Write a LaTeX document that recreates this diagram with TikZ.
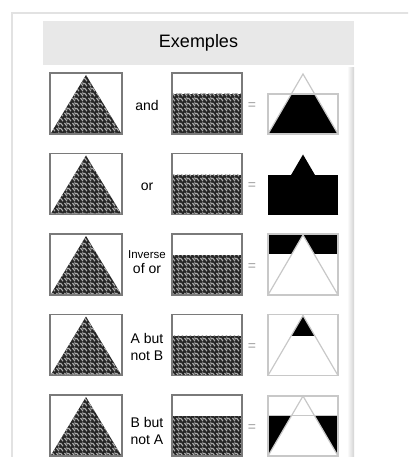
\documentclass[tikz,border=0pt]{standalone}
\usepackage{fontspec}
\setmainfont{Liberation Sans}
\usetikzlibrary{patterns}

\definecolor{framegray}{HTML}{E2E2E2}
\definecolor{headgray}{HTML}{E8E8E8}
\definecolor{boxgray}{HTML}{7A7A7A}
\definecolor{thingray}{HTML}{C8C8C8}
\definecolor{weavedark}{HTML}{262626}

% herringbone texture for the sets A and B
\pgfdeclarepatternformonly{weave}{\pgfpoint{-1pt}{-1pt}}{\pgfpoint{9pt}{6pt}}{\pgfpoint{8pt}{5pt}}{%
  \pgfsetlinewidth{1.1pt}
  \pgfpathmoveto{\pgfpoint{0.5pt}{4pt}}\pgfpathlineto{\pgfpoint{3pt}{0.8pt}}
  \pgfpathmoveto{\pgfpoint{4.5pt}{4pt}}\pgfpathlineto{\pgfpoint{7pt}{0.8pt}}
  \pgfpathmoveto{\pgfpoint{2.5pt}{4.5pt}}\pgfpathlineto{\pgfpoint{4pt}{2.8pt}}
  \pgfusepath{stroke}}

\tikzset{
  boxline/.style={draw=boxgray, line width=1.3pt},
  thinline/.style={draw=thingray, line width=1.2pt},
  woven/.style={fill=weavedark, postaction={pattern=weave, pattern color=gray!65}},
  opname/.style={font=\fontsize{14}{17}\selectfont, align=center, inner sep=0pt},
  eqsign/.style={text=gray!75, font=\fontsize{14}{16}\selectfont, inner sep=0pt},
}

\begin{document}
\begin{tikzpicture}[x=1pt, y=-1pt]
  \useasboundingbox (0,0) rectangle (408,457);
  \clip (0,0) rectangle (408,457);
  % frame and header
  \draw[framegray, line width=2pt] (12,460) -- (12,13) -- (410,13);
  \shade[left color=white, right color=gray!35] (347,68) rectangle (354,460);
  \fill[headgray] (43,21) rectangle (354,65);
  \node[font=\fontsize{18}{20}\selectfont] (title) at (198.5,43) {Exemples};

  % the two sets, A (triangle) and B (lower part), on every row
  \foreach \t in {73,153.5,234,314.5,395} {
    \fill[woven] (51,\t+60) -- (86,\t+2) -- (121,\t+60) -- cycle;
    \draw[boxline] (50,\t) rectangle (122,\t+61);
    \fill[woven] (172,\t+21) rectangle (242,\t+61);
    \draw[boxline] (172,\t) rectangle (242,\t+61);
    \node[eqsign] at (252,\t+33) {=};
  }

  % operation names
  \node[opname] (and) at (147,105) {and};
  \node[opname] (or) at (147,187) {or};
  \node[opname] (nor) at (147,262) {{\fontsize{11.5}{13}\selectfont Inverse}\\[-2pt]of or};
  \node[opname] (anotb) at (147,346.5) {A but\\not B};
  \node[opname] (bnota) at (147,430.5) {B but\\not A};

  % results
  % and
  \begin{scope}
    \clip (268,94) rectangle (338,134);
    \fill (268,134) -- (303,74) -- (338,134) -- cycle;
  \end{scope}
  \draw[thinline] (268,94) rectangle (338,134);
  \draw[thinline] (268,134) -- (303,74) -- (338,134);
  % or
  \fill (268,214.5) -- (303,154.5) -- (338,214.5) -- cycle;
  \fill (268,174.5) rectangle (338,214.5);
  % inverse of or
  \fill (268,234) rectangle (338,254);
  \fill[white] (268,295) -- (303,235) -- (338,295) -- cycle;
  \draw[thinline] (268,234) rectangle (338,295);
  \draw[thinline] (268,295) -- (303,235) -- (338,295);
  % A but not B
  \begin{scope}
    \clip (268,314.5) rectangle (338,335.5);
    \fill (268,375.5) -- (303,315.5) -- (338,375.5) -- cycle;
  \end{scope}
  \draw[thinline] (268,314.5) rectangle (338,375.5);
  \draw[thinline] (268,375.5) -- (303,315.5) -- (338,375.5);
  % B but not A
  \fill (268,415.5) rectangle (338,456);
  \fill[white] (268,456) -- (303,396) -- (338,456) -- cycle;
  \draw[thinline] (268,396) rectangle (338,456);
  \draw[thinline] (268,415.5) -- (338,415.5);
  \draw[thinline] (268,456) -- (303,396) -- (338,456);
\end{tikzpicture}
\end{document}
